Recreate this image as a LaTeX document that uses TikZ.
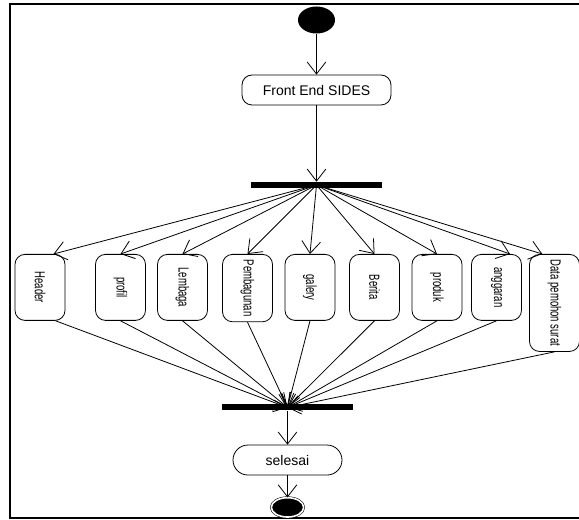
\documentclass[tikz,border=0pt]{standalone}
\usepackage{fontspec}
\setmainfont{Liberation Sans}
\usepackage{graphicx}
\usetikzlibrary{shapes.geometric, arrows.meta, positioning}
\tikzstyle{initial} = [ellipse, fill=black, minimum width=27.75pt, minimum height=20.25pt, inner sep=0pt]
\tikzstyle{final} = [ellipse, draw=black, fill=black, double=white, double distance=1.2pt, minimum width=24.25pt, minimum height=14.5pt, inner sep=0pt]
\tikzstyle{activity} = [rectangle, rounded corners=7.5pt, minimum width=111.75pt, minimum height=22.5pt, text centered, draw=black, line width=0.6pt, font=\fontsize{10.5}{12}\selectfont]
\tikzstyle{stadium} = [rectangle, rounded corners=11.25pt, minimum width=81.75pt, minimum height=22.5pt, text centered, draw=black, line width=0.6pt, font=\fontsize{10.5}{12}\selectfont]
\tikzstyle{menu} = [rectangle, rounded corners=7.5pt, minimum width=37.5pt, minimum height=49.5pt, inner sep=4pt, anchor=north, draw=black, line width=0.6pt, font=\fontsize{11}{12}\selectfont]
\tikzstyle{bar} = [rectangle, fill=black, minimum width=98.25pt, minimum height=4.5pt, inner sep=0pt]
\tikzstyle{arrow} = [line width=0.6pt, ->, >={Straight Barb[length=9pt, width=14pt]}]
\newcommand{\vtext}[1]{\rotatebox{-90}{\scalebox{0.65}[1]{#1}}}

\begin{document}
\begin{tikzpicture}[x=0.75pt, y=-0.75pt, node distance=52.5pt]
\useasboundingbox (0,0) rectangle (579,520);

% Frame
\draw[line width=1.5pt] (600,4) -- (10,4) -- (10,518) -- (600,518);

% Nodes
\node (start) [initial] at (316.5,20) {};
\node (front) [activity, below of=start] {Front End SIDES};
\node (fork) [bar, below of=front, yshift=-18.75pt] {};

\node (header) [menu] at (40,254) {\vtext{Header}};
\node (profil) [menu] at (120.5,254) {\vtext{profil}};
\node (lembaga) [menu] at (182.5,254) {\vtext{Lembaga}};
\node (pembagunan) [menu] at (247.5,254) {\vtext{Pembagunan}};
\node (galery) [menu] at (310,254) {\vtext{galery}};
\node (berita) [menu] at (374.5,254) {\vtext{Berita}};
\node (produk) [menu] at (437,254) {\vtext{produk}};
\node (anggaran) [menu] at (496.5,254) {\vtext{anggaran}};
\node (pemohon) [menu] at (554.5,254) {\vtext{Data pemohon surat}};

\node (join) [bar] at (287.5,407.5) {};
\node (selesai) [stadium, below of=join, yshift=13.1pt] {selesai};
\node (end) [final, below of=selesai, yshift=17pt] {};

% Arrows
\draw [arrow] (start) -- (front);
\draw [arrow] (front) -- (fork);

\draw [arrow] (fork.center) -- (header.68);
\draw [arrow] (fork.center) -- (profil.north);
\draw [arrow] (fork.center) -- (lembaga.north);
\draw [arrow] (fork.center) -- (pembagunan.north);
\draw [arrow] (fork.center) -- (galery.north);
\draw [arrow] (fork.center) -- (berita.north);
\draw [arrow] (fork.center) -- (produk.north);
\draw [arrow] (fork.center) -- (anggaran.68);
\draw [arrow] (fork.center) -- (pemohon.104);

\draw [arrow] (header.-65) -- (join.center);
\draw [arrow] (profil.south) -- (join.center);
\draw [arrow] (lembaga.south) -- (join.center);
\draw [arrow] (pembagunan.south) -- (join.center);
\draw [arrow] (galery.south) -- (join.center);
\draw [arrow] (berita.south) -- (join.center);
\draw [arrow] (produk.south) -- (join.center);
\draw [arrow] (anggaran.south) -- (join.center);
\draw [arrow] (pemohon.south) -- (join.center);

\draw [arrow] (join) -- (selesai);
\draw [arrow] (selesai) -- (end);

\end{tikzpicture}
\end{document}
